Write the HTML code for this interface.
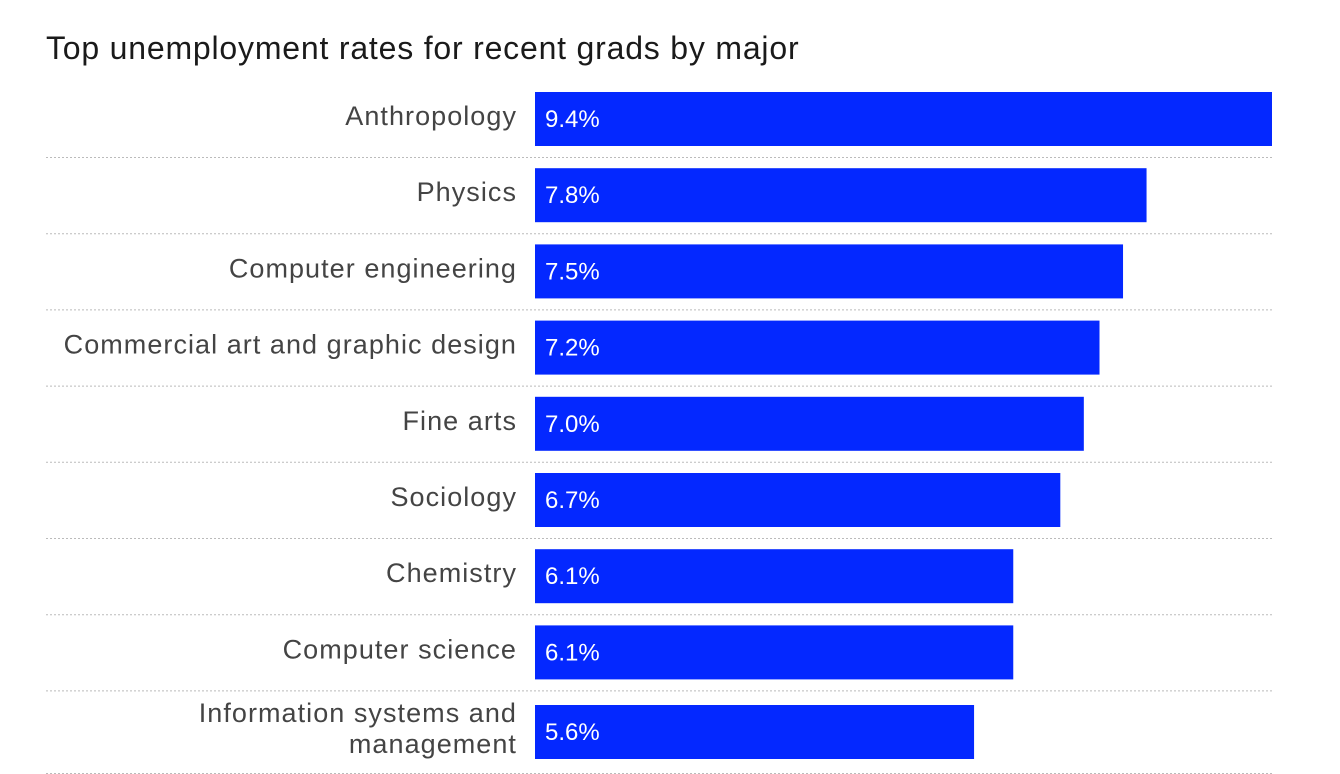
<!DOCTYPE html>
<html><head><meta charset="utf-8">
<style>
body{margin:0;background:#fff;width:1340px;height:774px;overflow:hidden;font-family:"Liberation Sans",sans-serif;}
#title{position:absolute;left:46px;top:30px;font-size:32px;color:#1a1a1a;letter-spacing:0.8px;margin:0;font-weight:normal;white-space:nowrap;}
#chart{position:absolute;left:0;top:0;}
</style></head><body>
<h1 id="title">Top unemployment rates for recent grads by major</h1>
<svg id="chart" width="1340" height="774"></svg>
<script>
const categories=["Anthropology","Physics","Computer engineering","Commercial art and graphic design","Fine arts","Sociology","Chemistry","Computer science","Information systems and|management"];
const values=[9.4,7.8,7.5,7.2,7.0,6.7,6.1,6.1,5.6];
const valueLabels=["9.4%","7.8%","7.5%","7.2%","7.0%","6.7%","6.1%","6.1%","5.6%"];
const svg=document.getElementById('chart');
const NS='http://www.w3.org/2000/svg';
const x0=535,pxPerUnit=737/9.4;
const xScale=v=>v*pxPerUnit;
const rowTop=i=>i<8?92+i*76.2:705;
const sepY=i=>i<8?157+i*76.2:773;
function mk(t,a){const e=document.createElementNS(NS,t);for(const k in a)e.setAttribute(k,a[k]);svg.appendChild(e);return e;}
categories.forEach((c,i)=>{
  const y=rowTop(i);
  const r=mk('rect',{x:x0,y:y,width:xScale(values[i]),height:54,fill:'#0428ff'});
  
  
  const v=mk('text',{x:545,y:y+35,fill:'#fff','font-size':24});
  v.textContent=valueLabels[i];
  
  
  const lines=c.split('|');
  const l=mk('text',{x:517,'text-anchor':'end',fill:'#444','font-size':27,'letter-spacing':'1.05'});
  
  
  lines.forEach((s,j)=>{const ts=document.createElementNS(NS,'tspan');ts.setAttribute('x',517);ts.setAttribute('y',lines.length>1?y+17+j*31:y+33);ts.textContent=s;l.appendChild(ts);});
  const d=mk('line',{x1:46,x2:1272,y1:sepY(i)+0.5,y2:sepY(i)+0.5,stroke:'#bbb','stroke-width':1,'stroke-dasharray':'2,2'});
  
  
});
</script>
</body></html>
